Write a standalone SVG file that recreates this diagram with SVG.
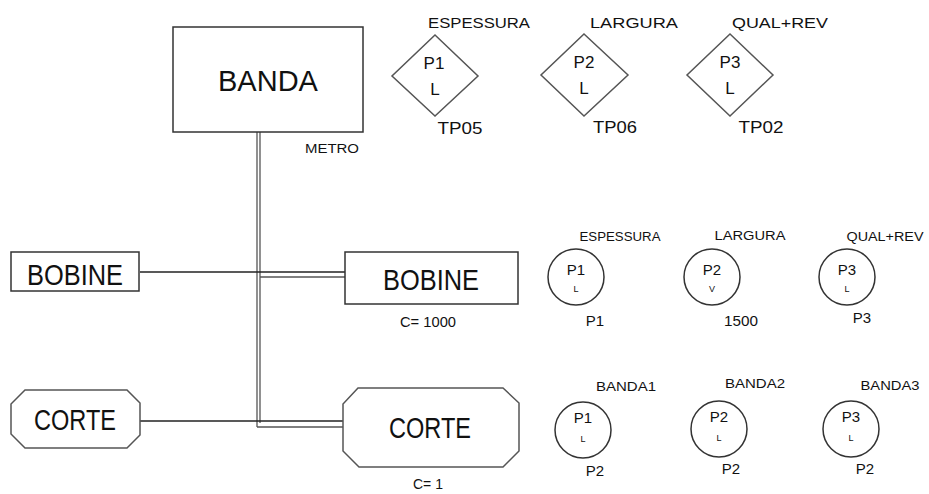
<svg xmlns="http://www.w3.org/2000/svg" width="929" height="494" viewBox="0 0 929 494">
<style>
.box{fill:#fff;stroke:#333;stroke-width:1.5}
.shp{fill:#fff;stroke:#555;stroke-width:1.5}
.c{fill:none;stroke:#333;stroke-width:1.5}
.t{font-family:"Liberation Sans",Arial,sans-serif;fill:#111;text-anchor:middle}
.big{font-size:29px}
.md{font-size:17px}
.sm{font-size:15px}
.xs{font-size:12px}
.tiny{font-size:9px}
.ln{stroke:#222;stroke-width:1.4;fill:none}
.dl{stroke:#555;stroke-width:1.3;fill:none}
</style>
<g id="connectors">
<line class="dl" x1="257" y1="132" x2="257" y2="427"/>
<line class="dl" x1="260" y1="132" x2="260" y2="423"/>
<line class="ln" x1="140" y1="272" x2="345" y2="272"/>
<line class="dl" x1="260" y1="277" x2="345" y2="277"/>
<line class="ln" x1="140" y1="421" x2="343" y2="421"/>
<line class="dl" x1="257" y1="427" x2="343" y2="427"/>
</g>
<g id="banda">
<rect class="box" x="173" y="27" width="190" height="105"/>
<text class="t big" x="268" y="91">BANDA</text>
<text class="t xs" x="332" y="153" textLength="54" lengthAdjust="spacingAndGlyphs">METRO</text>
</g>
<g id="bobine-left">
<rect class="box" x="11" y="252" width="128" height="39"/>
<text class="t big" x="75" y="285" textLength="96" lengthAdjust="spacingAndGlyphs">BOBINE</text>
</g>
<g id="bobine-right">
<rect class="box" x="345" y="252" width="173" height="52"/>
<text class="t big" x="431" y="290" textLength="96" lengthAdjust="spacingAndGlyphs">BOBINE</text>
<text class="t sm" x="428" y="327" textLength="56" lengthAdjust="spacingAndGlyphs">C= 1000</text>
</g>
<g id="corte-left">
<polygon class="shp" points="25,390 127,390 140,403 140,435 127,448 25,448 11,434 11,404"/>
<text class="t big" x="75" y="430" textLength="82" lengthAdjust="spacingAndGlyphs">CORTE</text>
</g>
<g id="corte-right">
<polygon class="shp" points="358,388 503,388 519,403 519,451 503,467 359,467 343,451 343,404"/>
<text class="t big" x="430" y="438" textLength="82" lengthAdjust="spacingAndGlyphs">CORTE</text>
<text class="t sm" x="428" y="489" textLength="30" lengthAdjust="spacingAndGlyphs">C= 1</text>
</g>
<g id="p1-diamond">
<polygon class="shp" points="435,35 478,76 435,116 392,76"/>
<text class="t md" x="434" y="69">P1</text>
<text class="t md" x="435" y="95">L</text>
<text class="t sm" x="479" y="28" textLength="102" lengthAdjust="spacingAndGlyphs">ESPESSURA</text>
<text class="t md" x="460" y="134" textLength="45" lengthAdjust="spacingAndGlyphs">TP05</text>
</g>
<g id="p2-diamond">
<polygon class="shp" points="584,34 628,75 584,116 541,75"/>
<text class="t md" x="584" y="68">P2</text>
<text class="t md" x="584" y="94">L</text>
<text class="t sm" x="634" y="28" textLength="88" lengthAdjust="spacingAndGlyphs">LARGURA</text>
<text class="t md" x="615" y="133" textLength="44" lengthAdjust="spacingAndGlyphs">TP06</text>
</g>
<g id="p3-diamond">
<polygon class="shp" points="730,34 773,75 730,116 687,75"/>
<text class="t md" x="730" y="68">P3</text>
<text class="t md" x="730" y="94">L</text>
<text class="t sm" x="780" y="28" textLength="96" lengthAdjust="spacingAndGlyphs">QUAL+REV</text>
<text class="t md" x="761" y="133" textLength="45" lengthAdjust="spacingAndGlyphs">TP02</text>
</g>
<g id="c1-espessura">
<circle class="c" cx="576" cy="277" r="28"/>
<text class="t sm" x="576" y="275">P1</text>
<text class="t tiny" x="576" y="292">L</text>
<text class="t xs" x="620" y="241" textLength="81" lengthAdjust="spacingAndGlyphs">ESPESSURA</text>
<text class="t sm" x="595" y="326">P1</text>
</g>
<g id="c2-largura">
<circle class="c" cx="712" cy="277" r="28"/>
<text class="t sm" x="712" y="275">P2</text>
<text class="t tiny" x="712" y="292">V</text>
<text class="t xs" x="750" y="240" textLength="71" lengthAdjust="spacingAndGlyphs">LARGURA</text>
<text class="t sm" x="741" y="326" textLength="34" lengthAdjust="spacingAndGlyphs">1500</text>
</g>
<g id="c3-qualrev">
<circle class="c" cx="847" cy="277" r="28"/>
<text class="t sm" x="847" y="275">P3</text>
<text class="t tiny" x="847" y="292">L</text>
<text class="t xs" x="885" y="241" textLength="77" lengthAdjust="spacingAndGlyphs">QUAL+REV</text>
<text class="t sm" x="862" y="323">P3</text>
</g>
<g id="c4-banda1">
<circle class="c" cx="583" cy="430" r="28"/>
<text class="t sm" x="583" y="423">P1</text>
<text class="t tiny" x="583" y="442">L</text>
<text class="t xs" x="626" y="391" textLength="60" lengthAdjust="spacingAndGlyphs">BANDA1</text>
<text class="t sm" x="595" y="476">P2</text>
</g>
<g id="c5-banda2">
<circle class="c" cx="719" cy="429" r="28"/>
<text class="t sm" x="719" y="422">P2</text>
<text class="t tiny" x="719" y="441">L</text>
<text class="t xs" x="755" y="388" textLength="60" lengthAdjust="spacingAndGlyphs">BANDA2</text>
<text class="t sm" x="731" y="474">P2</text>
</g>
<g id="c6-banda3">
<circle class="c" cx="851" cy="429" r="28"/>
<text class="t sm" x="851" y="422">P3</text>
<text class="t tiny" x="851" y="441">L</text>
<text class="t xs" x="890" y="390" textLength="59" lengthAdjust="spacingAndGlyphs">BANDA3</text>
<text class="t sm" x="865" y="474">P2</text>
</g>
</svg>
